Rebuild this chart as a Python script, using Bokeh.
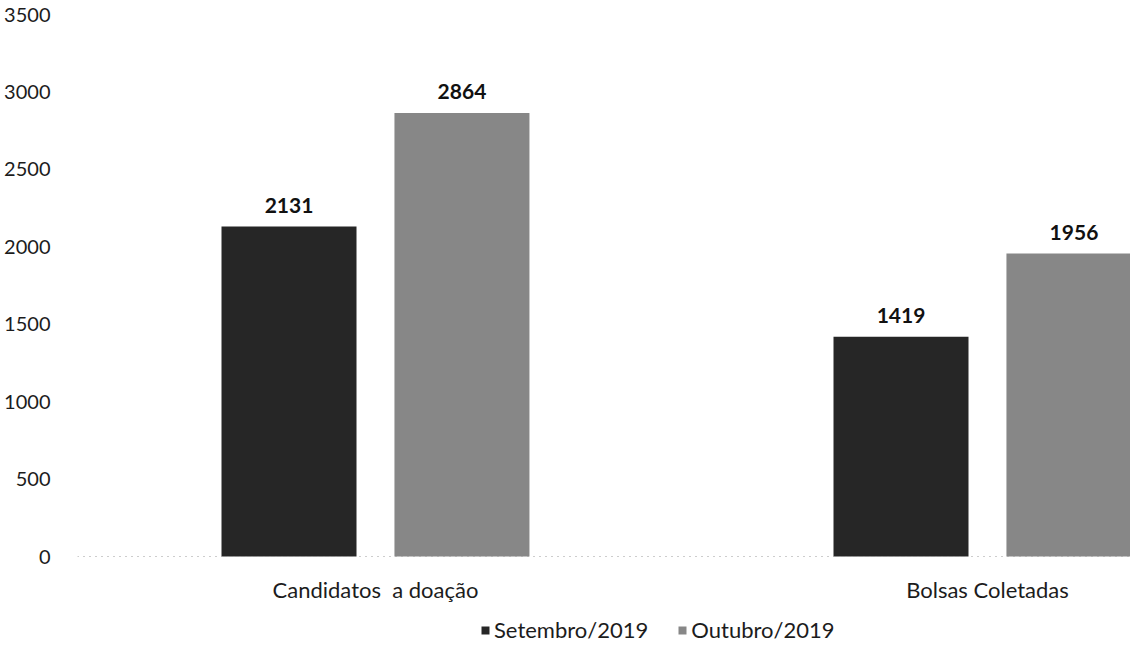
from bokeh.plotting import figure
from bokeh.models import ColumnDataSource, Range1d, FixedTicker, Legend, LegendItem, Span
from bokeh.core.properties import value
from bokeh.transform import dodge
from bokeh.embed import file_html
from bokeh.resources import INLINE

categories = ["Candidatos\u00a0 a doação", "Bolsas Coletadas"]
setembro = [2131, 1419]
outubro = [2864, 1956]
series_names = ["Setembro/2019", "Outubro/2019"]
y_ticks = [0, 500, 1000, 1500, 2000, 2500, 3000, 3500]

FONT = "Lato"
TXT = "#1c1c1c"
xs = list(range(len(categories)))
src = ColumnDataSource(dict(
    x=xs, cat=categories, s=setembro, o=outubro, zero=[0] * len(xs),
    s_lbl=[str(v) for v in setembro], o_lbl=[str(v) for v in outubro],
))

# frame extends below zero to hold category labels and legend
p = figure(frame_width=1053, frame_height=633, output_backend="svg", toolbar_location=None,
           x_range=Range1d(-0.4869, 1.2337), y_range=Range1d(-587.6, 3500),
           min_border_left=77, min_border_right=0, min_border_top=14, min_border_bottom=0)
p.outline_line_color = None
p.grid.grid_line_color = None
p.xaxis.visible = False

OFF = 0.1413
W = 0.2206
r1 = p.vbar(x=dodge("x", -OFF, range=p.x_range), top="s", width=W, source=src,
            fill_color="#262626", line_color=None)
r2 = p.vbar(x=dodge("x", OFF, range=p.x_range), top="o", width=W, source=src,
            fill_color="#878787", line_color=None)

for col, lbl, off in (("s", "s_lbl", -OFF), ("o", "o_lbl", OFF)):
    p.text(x=dodge("x", off, range=p.x_range), y=col, text=lbl, source=src,
           text_align="center", text_baseline="bottom", y_offset=-14,
           text_font=value(FONT), text_font_style="bold", text_font_size="21px",
           text_color="#111111")

# baseline (category axis line)
p.add_layout(Span(location=0, dimension="width", line_color="#9a9a9a",
                  line_dash="1 5", line_width=1))

# category labels
p.text(x="x", y="zero", text="cat", source=src, text_align="center",
       text_baseline="middle", y_offset=33, text_font=value(FONT),
       text_font_size="22px", text_color=TXT)

# y axis
p.yaxis.ticker = FixedTicker(ticks=y_ticks)
p.yaxis.axis_line_color = None
p.yaxis.major_tick_line_color = None
p.yaxis.major_tick_out = 0
p.yaxis.major_tick_in = 0
p.yaxis.minor_tick_line_color = None
p.yaxis.major_label_text_font = FONT
p.yaxis.major_label_text_font_size = "20px"
p.yaxis.major_label_text_color = TXT
p.yaxis.major_label_standoff = 27

legend = Legend(items=[LegendItem(label=series_names[0], renderers=[r1]),
                       LegendItem(label=series_names[1], renderers=[r2])],
                orientation="horizontal", location=(403, 4),
                label_text_font=FONT, label_text_font_size="22px",
                label_text_color=TXT, glyph_width=10, glyph_height=10,
                spacing=29, label_standoff=4, border_line_color=None,
                background_fill_alpha=0, padding=2, margin=0)
p.add_layout(legend, "center")

open("out.html", "w").write(file_html(p, INLINE))
